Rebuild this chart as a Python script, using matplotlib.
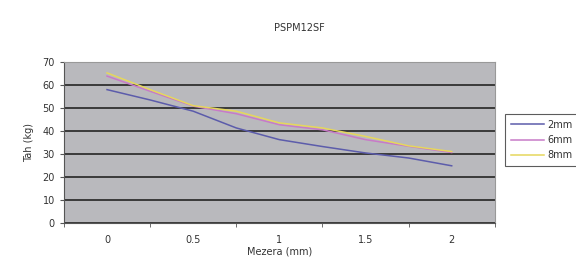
import numpy as np
import matplotlib
matplotlib.use('Agg')
import matplotlib.pyplot as plt

# Data
mezera = [0, 0.25, 0.5, 0.75, 1, 1.25, 1.5, 1.75, 2]
tah_2mm = [58, 53.5, 48.6, 41.3, 36.2, 33.2, 30.4, 28.2, 24.8]
tah_6mm = [63.9, 57.3, 50.8, 47.5, 42.7, 40.5, 36.2, 33.3, 30.6]
tah_8mm = [65.3, 58.0, 51.0, 48.6, 43.5, 41.3, 37.6, 33.5, 31.0]
labels = ['2mm', '6mm', '8mm']
xtick_labels = ['0', '0.5', '1', '1.5', '2']

colors = ['#5c5cab', '#c87ac8', '#e6d75c']
text_c = '#333333'

fig = plt.figure(figsize=(5.76, 2.62), dpi=100)
ax = fig.add_axes([0.111, 0.150, 0.748, 0.613])
ax.set_facecolor('#b9b9bd')

for y, lab, c in zip([tah_2mm, tah_6mm, tah_8mm], labels, colors):
    ax.plot(mezera, y, color=c, lw=1.1, label=lab)

ax.set_xlim(-0.25, 2.25)
ax.set_ylim(0, 70)
ax.set_yticks(np.arange(0, 71, 10))
ax.yaxis.grid(True, color='#3a3a3a', lw=1.4)
ax.set_axisbelow(True)

# category labels in the middle, tick marks at boundaries
ax.set_xticks([0, 0.5, 1, 1.5, 2])
ax.set_xticklabels(xtick_labels)
ax.set_xticks(np.arange(-0.25, 2.26, 0.5), minor=True)
ax.tick_params(axis='x', which='major', length=0, pad=9, labelsize=7, colors=text_c)
ax.tick_params(axis='x', which='minor', length=3, color='#555555')
ax.tick_params(axis='y', length=3, labelsize=7, colors=text_c, color='#555555')

for s in ['top', 'right']:
    ax.spines[s].set_color('#999999')
for s in ['left', 'bottom']:
    ax.spines[s].set_color('#555555')

ax.set_xlabel('Mezera (mm)', fontsize=7, color=text_c, labelpad=1)
ax.set_ylabel('Tah (kg)', fontsize=7, color=text_c, labelpad=6)
fig.text(0.52, 0.893, 'PSPM12SF', fontsize=7, color=text_c, ha='center', va='center')

leg = fig.legend(loc='upper left', bbox_to_anchor=(0.877, 0.565), fontsize=7,
                 frameon=True, fancybox=False, handlelength=3.4, borderpad=0.6,
                 labelspacing=0.55, handletextpad=0.3, borderaxespad=0)
leg.get_frame().set_edgecolor('#333333')
leg.get_frame().set_linewidth(0.8)
for t in leg.get_texts():
    t.set_color(text_c)

fig.savefig('out.png', dpi=100)
